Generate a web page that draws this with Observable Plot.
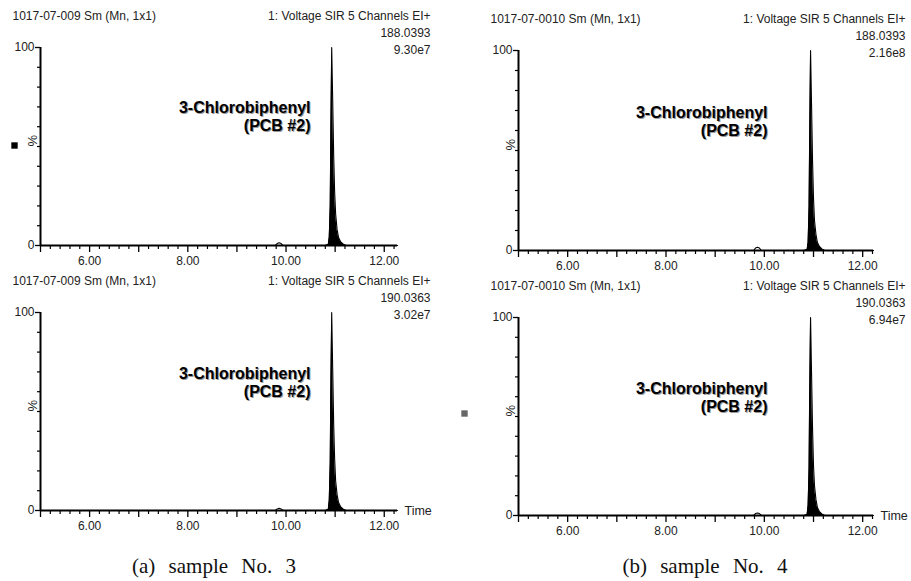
<!DOCTYPE html>
<html><head><meta charset="utf-8">
<script src="https://cdn.jsdelivr.net/npm/d3@7"></script>
<script src="https://cdn.jsdelivr.net/npm/@observablehq/plot@0.6"></script>
<style>
body{margin:0;background:#fff;}
#wrap{position:relative;width:911px;height:581px;overflow:hidden;background:#fff;}
.panel{position:absolute;}
.panel svg{overflow:visible;}
.cap{position:absolute;font-family:"Liberation Serif","DejaVu Serif",serif;font-size:21px;word-spacing:8px;color:#111;transform:translate(-50%,-50%);white-space:nowrap;}
</style></head><body><div id="wrap"></div>
<script>
// ---- text content ----
const sampleHeaders = ["1017-07-009 Sm (Mn, 1x1)", "1017-07-0010 Sm (Mn, 1x1)"];
const channelTitle = "1: Voltage SIR 5 Channels EI+";
const massChannels = ["188.0393", "190.0363"];
const intensityLeft = ["9.30e7", "3.02e7"];
const intensityRight = ["2.16e8", "6.94e7"];
const compoundName = ["3-Chlorobiphenyl", "(PCB #2)"];
const captions = ["(a) sample No. 3", "(b) sample No. 4"];
const timeLabel = "Time";
const xLabeledTicks = [6, 8, 10, 12];
const xMajorTicks = [5, 6, 7, 8, 9, 10, 11, 12];
const yLabeledTicks = [0, 100];
const yMinorTicks = [10, 20, 30, 40, 50, 60, 70, 80, 90];

// ---- chromatogram series (retention time in min, relative intensity %) ----
const timeLeft  = [5.00, 9.78, 9.82, 9.86, 9.90, 9.94, 10.80, 10.86, 10.88, 10.90, 10.91, 10.93, 10.95, 10.97, 10.99, 11.01, 11.04, 11.07, 11.11, 11.16, 11.22, 12.27];
const resp188a  = [0, 0, 1.0, 1.4, 1.0, 0, 0, 0.5, 4, 20, 50, 100, 74, 46, 27, 16, 8, 4, 2, 0.8, 0, 0];
const resp190a  = [0, 0, 0.8, 1.1, 0.8, 0, 0, 0.5, 5, 24, 55, 100, 72, 44, 26, 15, 8, 4, 2, 0.8, 0, 0];
const timeRight = [5.00, 9.78, 9.82, 9.86, 9.90, 9.94, 10.81, 10.87, 10.89, 10.91, 10.92, 10.94, 10.96, 10.98, 11.00, 11.02, 11.05, 11.08, 11.12, 11.17, 11.23, 12.22];
const resp188b  = [0, 0, 1.2, 1.6, 1.2, 0, 0, 0.5, 4, 22, 52, 100, 73, 45, 26, 15, 8, 4, 2, 0.8, 0, 0];
const resp190b  = [0, 0, 1.0, 1.3, 1.0, 0, 0, 0.5, 5, 24, 56, 100, 72, 44, 25, 15, 8, 4, 2, 0.8, 0, 0];

const FONT = "Liberation Sans, Arial, sans-serif";
const wrap = document.getElementById("wrap");

function panel(cfg) {
  const data = cfg.t.map((t, i) => ({t, v: cfg.r[i]}));
  const peak = data.filter(d => d.t > 10.5);
  const minorX = d3.range(26, Math.floor(cfg.domain[1] * 5) + 1).map(i => i / 5).filter(v => !xMajorTicks.includes(v));
  const marks = [
    Plot.areaY(peak, {x: "t", y: "v", fill: "#000"}),
    Plot.lineY(data, {x: "t", y: "v", stroke: "#000", strokeWidth: 1.1}),
    Plot.ruleY([0], {stroke: "#000", strokeWidth: 2.2}),
    Plot.ruleX([cfg.domain[0]], {stroke: "#000", strokeWidth: 2}),
    Plot.axisX(minorX, {tickSize: 4, tickFormat: () => "", stroke: "#000", strokeWidth: 1.2, label: null}),
    Plot.axisX(xMajorTicks, {tickSize: 7, tickPadding: 4, stroke: "#000", strokeWidth: 1.3, fill: "#222",
      tickFormat: d => xLabeledTicks.includes(d) ? d.toFixed(2) : "", label: null}),
    Plot.axisY(yMinorTicks, {tickSize: 3, tickFormat: () => "", stroke: "#000", strokeWidth: 1.2, label: null}),
    Plot.axisY(yLabeledTicks, {tickSize: 5, tickPadding: 1, stroke: "#000", strokeWidth: 1.3, fill: "#222", tickFormat: d => String(d), label: null}),
    Plot.text(["%"], {frameAnchor: "left", dx: -8, rotate: -90, text: d => d, fill: "#222", fontSize: 13}),
    Plot.text([cfg.header], {frameAnchor: "top-left", dx: -28, dy: -31, text: d => d, textAnchor: "start", lineAnchor: "middle", fill: "#222"}),
    Plot.text([channelTitle], {frameAnchor: "top-right", dx: cfg.hdx, dy: -31, text: d => d, textAnchor: "end", lineAnchor: "middle", fill: "#222"}),
    Plot.text([cfg.mass], {frameAnchor: "top-right", dx: cfg.hdx, dy: -14, text: d => d, textAnchor: "end", lineAnchor: "middle", fill: "#222"}),
    Plot.text([cfg.inten], {frameAnchor: "top-right", dx: cfg.hdx, dy: 3, text: d => d, textAnchor: "end", lineAnchor: "middle", fill: "#222"}),
  ];
  compoundName.forEach((s, i) => {
    marks.push(Plot.text([s], {frameAnchor: "top-left", dx: cfg.ax + 1, dy: cfg.ay + i * 18 + 1, text: d => d, textAnchor: "end", lineAnchor: "middle", fill: "#999", fontWeight: "bold", fontSize: 16}));
    marks.push(Plot.text([s], {frameAnchor: "top-left", dx: cfg.ax, dy: cfg.ay + i * 18, text: d => d, textAnchor: "end", lineAnchor: "middle", fill: "#000", fontWeight: "bold", fontSize: 16}));
  });
  if (cfg.marker) marks.push(Plot.dot([0], {frameAnchor: "left", dx: cfg.marker.dx, dy: cfg.marker.dy, symbol: "square", r: 3.6, fill: cfg.marker.color, stroke: "none"}));
  if (cfg.showTime) marks.push(Plot.text([timeLabel], {frameAnchor: "bottom-right", dx: 7, dy: 0, text: d => d, textAnchor: "start", lineAnchor: "middle", fill: "#222", fontSize: 12.5}));
  const chart = Plot.plot({
    width: cfg.width, height: cfg.mt + cfg.ph + 30,
    marginLeft: 40, marginRight: cfg.width - 40 - cfg.pw, marginTop: cfg.mt, marginBottom: 30,
    x: {domain: cfg.domain, axis: null},
    y: {domain: [0, 100], axis: null},
    style: {fontFamily: FONT, fontSize: "12px", color: "#222", background: "transparent"},
    marks
  });
  const div = document.createElement("div");
  div.className = "panel";
  div.style.left = cfg.left + "px";
  div.style.top = cfg.top + "px";
  div.appendChild(chart);
  wrap.appendChild(div);
}

panel({left: 0, top: 0, width: 455, mt: 47, ph: 198, pw: 357, domain: [5.0, 12.27], t: timeLeft, r: resp188a,
  header: sampleHeaders[0], mass: massChannels[0], inten: intensityLeft[0], hdx: 33, ax: 270, ay: 60,
  marker: {dx: -26, dy: -1, color: "#000"}});
panel({left: 0, top: 265, width: 455, mt: 47, ph: 198, pw: 357, domain: [5.0, 12.27], t: timeLeft, r: resp190a,
  header: sampleHeaders[0], mass: massChannels[1], inten: intensityLeft[1], hdx: 33, ax: 270, ay: 61, showTime: true});
panel({left: 478, top: 0, width: 433, mt: 50, ph: 200, pw: 355, domain: [5.0, 12.22], t: timeRight, r: resp188b,
  header: sampleHeaders[1], mass: massChannels[0], inten: intensityRight[0], hdx: 32, ax: 249, ay: 62});
panel({left: 478, top: 267, width: 433, mt: 50, ph: 198, pw: 355, domain: [5.0, 12.22], t: timeRight, r: resp190b,
  header: sampleHeaders[1], mass: massChannels[1], inten: intensityRight[1], hdx: 32, ax: 249, ay: 71, showTime: true,
  marker: {dx: -54, dy: -3, color: "#666"}});

[[captions[0], 214], [captions[1], 705]].forEach(([s, x]) => {
  const c = document.createElement("div");
  c.className = "cap";
  c.textContent = s;
  c.style.left = x + "px";
  c.style.top = "566px";
  wrap.appendChild(c);
});
</script></body></html>
